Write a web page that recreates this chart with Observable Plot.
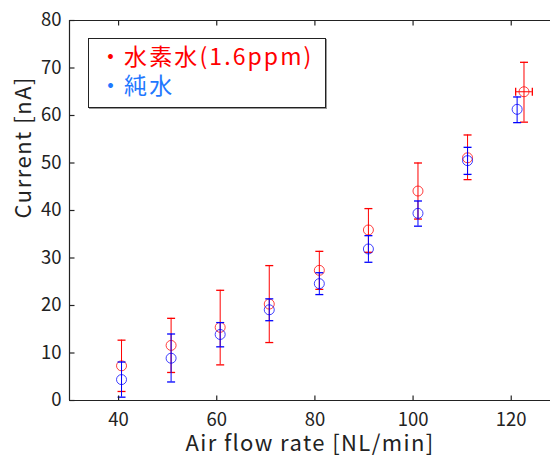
<!DOCTYPE html>
<html>
<head>
<meta charset="utf-8">
<script src="https://cdn.jsdelivr.net/npm/d3@7"></script>
<script src="https://cdn.jsdelivr.net/npm/@observablehq/plot@0.6"></script>
<style>
  html, body { margin: 0; padding: 0; background: #fff; }
  #wrap { position: relative; width: 550px; height: 456px; overflow: hidden; }
  #legend {
    position: absolute; left: 88px; top: 38px; width: 238px; height: 70px;
    border: 1px solid #222; box-shadow: 1px 1px 0 #999; background: #fff;
    font-family: "Noto Sans CJK JP", sans-serif; font-size: 23px; line-height: 29px;
    letter-spacing: 2.1px; white-space: nowrap;
    box-sizing: border-box; padding: 2px 0 0 10px;
  }
  #legend div { height: 29px; }
  #legend .r { color: #ff0000; }
  #legend .b { color: #1f78ff; }
</style>
</head>
<body>
<div id="wrap"><div id="legend"></div></div>
<script>
// x positions (NL/min)
const flowH2 = [40.6, 50.7, 60.7, 70.7, 80.9, 90.9, 101.0, 111.1, 122.6];
const flowPure = [40.6, 50.7, 60.7, 70.7, 80.9, 90.9, 101.0, 111.1, 121.2];
// 水素水 (1.6 ppm): mean, upper, lower (nA)
const h2Mean = [7.3, 11.6, 15.4, 20.3, 27.4, 35.9, 44.1, 51.1, 65.0];
const h2Hi   = [12.7, 17.3, 23.2, 28.4, 31.4, 40.4, 50.0, 55.9, 71.2];
const h2Lo   = [1.9, 5.9, 7.5, 12.2, 23.4, 31.2, 38.2, 46.5, 58.6];
const h2XErr = [0, 0, 0, 0, 0, 0, 0, 0, 1.7];
// 純水
const pureMean = [4.4, 8.9, 13.9, 19.1, 24.6, 31.9, 39.4, 50.5, 61.3];
const pureHi   = [8.1, 14.0, 16.4, 21.4, 26.9, 34.7, 42.0, 53.3, 63.9];
const pureLo   = [0.7, 3.9, 11.3, 16.8, 22.3, 29.1, 36.7, 47.6, 58.5];

const xTicks = [40, 60, 80, 100, 120];
const yTicks = [0, 10, 20, 30, 40, 50, 60, 70, 80];
const seriesNames = ["水素水(1.6ppm)", "純水"];
const xLabel = "Air flow rate [NL/min]";
const yLabel = "Current [nA]";

const h2 = flowH2.map((x, i) => ({x, y: h2Mean[i], hi: h2Hi[i], lo: h2Lo[i], xe: h2XErr[i]}));
const pure = flowPure.map((x, i) => ({x, y: pureMean[i], hi: pureHi[i], lo: pureLo[i], xe: 0}));

const capH = {draw(ctx) { ctx.moveTo(-4, 0); ctx.lineTo(4, 0); }};
const capV = {draw(ctx) { ctx.moveTo(0, -4); ctx.lineTo(0, 4); }};
const tickUp = {draw(ctx) { ctx.moveTo(0, 0); ctx.lineTo(0, -5); }};
const tickDown = {draw(ctx) { ctx.moveTo(0, 0); ctx.lineTo(0, 5); }};
const tickRight = {draw(ctx) { ctx.moveTo(0, 0); ctx.lineTo(5, 0); }};

function series(data, color) {
  const xe = data.filter(d => d.xe > 0);
  return [
    Plot.ruleX(data, {x: "x", y1: "lo", y2: "hi", stroke: color, strokeWidth: 1}),
    Plot.dot(data, {x: "x", y: "hi", symbol: capH, r: 4, fill: "none", stroke: color, strokeWidth: 1.3}),
    Plot.dot(data, {x: "x", y: "lo", symbol: capH, r: 4, fill: "none", stroke: color, strokeWidth: 1.3}),
    Plot.ruleY(xe, {y: "y", x1: d => d.x - d.xe, x2: d => d.x + d.xe, stroke: color, strokeWidth: 1}),
    Plot.dot(xe, {x: d => d.x - d.xe, y: "y", symbol: capV, r: 4, fill: "none", stroke: color, strokeWidth: 1.3}),
    Plot.dot(xe, {x: d => d.x + d.xe, y: "y", symbol: capV, r: 4, fill: "none", stroke: color, strokeWidth: 1.3}),
    Plot.dot(data, {x: "x", y: "y", r: 5, fill: "none", stroke: color, strokeWidth: 1, strokeOpacity: 0.75})
  ];
}

const chart = Plot.plot({
  width: 550,
  height: 456,
  marginLeft: 69,
  marginRight: 0,
  marginTop: 20,
  marginBottom: 56,
  style: {fontFamily: "'Noto Sans CJK JP', sans-serif", background: "#fff", color: "#222"},
  x: {domain: [30, 128], ticks: xTicks},
  y: {domain: [0, 80], ticks: yTicks},
  marks: [
    ...series(h2, "#ff0000"),
    ...series(pure, "#0000ff"),
    // inward ticks on bottom, top and left
    Plot.dot(xTicks, {x: d => d, y: () => 0, symbol: tickUp, fill: "none", stroke: "#222", strokeWidth: 1.2}),
    Plot.dot(xTicks, {x: d => d, y: () => 80, symbol: tickDown, fill: "none", stroke: "#222", strokeWidth: 1.2}),
    Plot.dot(yTicks, {x: () => 30, y: d => d, symbol: tickRight, fill: "none", stroke: "#222", strokeWidth: 1.2}),
    // frame lines
    Plot.ruleY([0, 80], {stroke: "#222", strokeWidth: 1.2}),
    Plot.ruleX([30], {stroke: "#222", strokeWidth: 1.2}),
    Plot.axisX({ticks: xTicks, tickSize: 0, tickPadding: 12, fontSize: 18.5, label: null}),
    Plot.axisY({ticks: yTicks, tickSize: 0, tickPadding: 8, fontSize: 18.5, label: null}),
    Plot.text([xLabel], {frameAnchor: "bottom", dy: 50, fontSize: 22, fill: "#222"}),
    Plot.text([yLabel], {frameAnchor: "left", dx: -46, dy: 8, rotate: -90, fontSize: 22, fill: "#222"})
  ]
});
d3.select(chart).selectAll("text")
  .filter(function() { return this.textContent === xLabel; })
  .attr("letter-spacing", "1.4px");
d3.select(chart).selectAll("text")
  .filter(function() { return this.textContent === yLabel; })
  .attr("letter-spacing", "1.5px");
document.getElementById("wrap").prepend(chart);
document.getElementById("legend").innerHTML =
  `<div class="r">・${seriesNames[0]}</div><div class="b">・${seriesNames[1]}</div>`;
</script>
</body>
</html>
